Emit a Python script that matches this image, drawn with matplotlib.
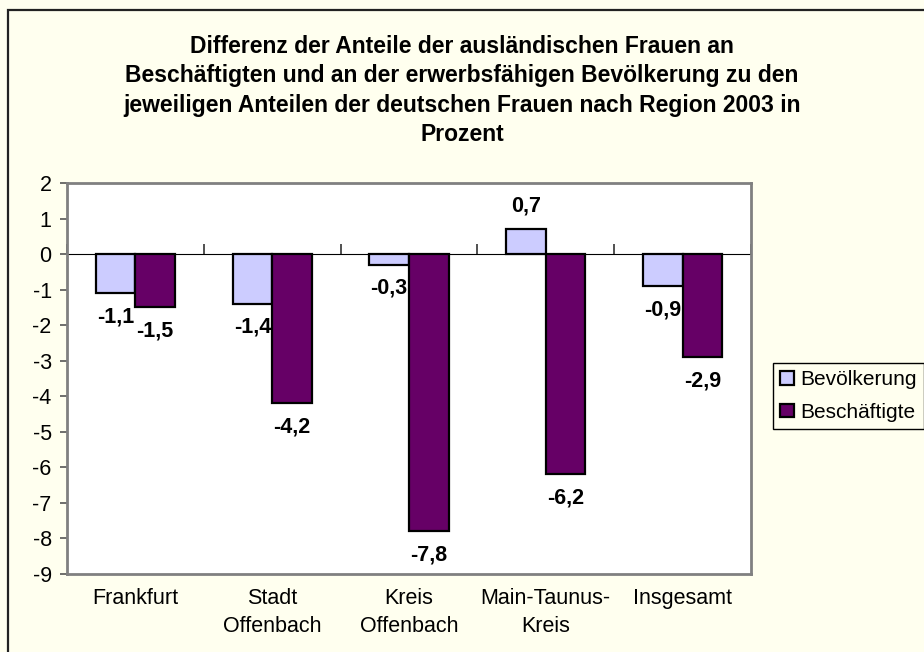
import matplotlib
matplotlib.use("Agg")
import matplotlib.pyplot as plt
from matplotlib.patches import Rectangle

plt.rcParams['font.family'] = ['Liberation Sans', 'DejaVu Sans']

categories = ["Frankfurt", "Stadt\nOffenbach", "Kreis\nOffenbach", "Main-Taunus-\nKreis", "Insgesamt"]
bevoelkerung = [-1.1, -1.4, -0.3, 0.7, -0.9]
beschaeftigte = [-1.5, -4.2, -7.8, -6.2, -2.9]
series_names = ["Bevölkerung", "Beschäftigte"]
yticks = list(range(-9, 3))
title = ("Differenz der Anteile der ausländischen Frauen an\n"
         "Beschäftigten und an der erwerbsfähigen Bevölkerung zu den\n"
         "jeweiligen Anteilen der deutschen Frauen nach Region 2003 in\n"
         "Prozent")

W, H = 924, 652
bg = '#FFFFEF'
fig = plt.figure(figsize=(W / 100, H / 100), dpi=100, facecolor=bg)

# outer chart border (extends beyond the image at right/bottom)
fig.patches.append(Rectangle((8 / W, -0.05), 1.1, 1 - 10 / H + 0.05, transform=fig.transFigure,
                             fill=False, edgecolor='#222222', linewidth=1.6, zorder=0))

ax = fig.add_axes([67 / W, 1 - 574 / H, (751 - 67) / W, (574 - 183) / H])
ax.set_facecolor('white')

x = list(range(len(categories)))
bw = 0.29
b1 = ax.bar([i - bw / 2 for i in x], bevoelkerung, bw, color='#CCCCFF', edgecolor='black',
            linewidth=1.6, label=series_names[0], zorder=3)
b2 = ax.bar([i + bw / 2 for i in x], beschaeftigte, bw, color='#660066', edgecolor='black',
            linewidth=1.6, label=series_names[1], zorder=3)

def fmt(v):
    return f"{v:.1f}".replace('.', ',')

for bars, vals in ((b1, bevoelkerung), (b2, beschaeftigte)):
    for rect, v in zip(bars, vals):
        cx = rect.get_x() + rect.get_width() / 2
        off = 17 if v >= 0 else -17
        ax.annotate(fmt(v), (cx, v), xytext=(0, off), textcoords='offset points',
                    ha='center', va='center', fontsize=15.5, fontweight='bold', color='black')

ax.set_xlim(-0.5, len(categories) - 0.5)
ax.set_ylim(-9, 2)
ax.set_yticks(yticks)
ax.set_yticklabels([str(t) for t in yticks])
ax.tick_params(axis='y', direction='out', length=5, width=1.2, color='#555555',
               labelsize=15.5, pad=6)
ax.set_xticks(x)
ax.set_xticklabels(categories, linespacing=1.45)
ax.tick_params(axis='x', length=0, labelsize=15.5, pad=10)

for s in ax.spines.values():
    s.set_color('#808080')
    s.set_linewidth(2)

# category axis at zero with boundary ticks
zero_loc = (0 - (-9)) / (2 - (-9))
sec = ax.secondary_xaxis(zero_loc)
sec.set_xticks([i - 0.5 for i in range(len(categories) + 1)])
sec.set_xticklabels([''] * (len(categories) + 1))
sec.tick_params(axis='x', direction='out', length=7, width=1.2, color='#333333')
sec.spines['bottom'].set_color('#808080')
sec.spines['bottom'].set_linewidth(1.6)

fig.text(0.5, 1 - 35 / H, title, ha='center', va='top', fontsize=16.5, fontweight='bold',
         linespacing=1.36)

leg = fig.legend(handles=[b1, b2], labels=series_names, loc='upper left',
                 bbox_to_anchor=(773 / W, 1 - 363 / H), bbox_transform=fig.transFigure,
                 borderaxespad=0, fontsize=15, frameon=True, fancybox=False,
                 edgecolor='black', facecolor=bg, framealpha=1,
                 handlelength=0.65, handleheight=0.65, handletextpad=0.3,
                 labelspacing=0.65, borderpad=0.35)
leg.get_frame().set_linewidth(1.0)

fig.savefig('out.png', dpi=100, facecolor=bg)
